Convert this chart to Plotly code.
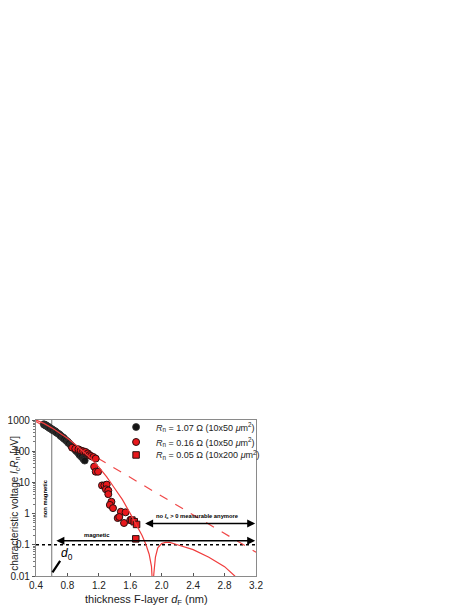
import numpy as np
import plotly.graph_objects as go

# R_n = 1.07 Ohm (10x50 um^2), black circles
black_x = [0.50, 0.51, 0.52, 0.53, 0.54, 0.55, 0.56, 0.57, 0.58, 0.60, 0.61, 0.62, 0.64, 0.65,
           0.66, 0.68, 0.70, 0.71, 0.72, 0.74, 0.75, 0.76, 0.78, 0.80, 0.81, 0.82, 0.84, 0.85,
           0.86, 0.88, 0.90, 0.91, 0.92, 0.94, 0.95, 0.96, 0.98, 1.00, 1.01, 1.02]
black_y = [730, 700, 690, 660, 640, 610, 600, 560, 540, 510, 480, 470, 440, 420,
           400, 370, 340, 320, 300, 280, 265, 250, 225, 205, 190, 180, 160, 150,
           140, 128, 112, 105, 98, 88, 80, 74, 66, 58, 55, 50]

# R_n = 0.16 Ohm (10x50 um^2), red circles
red_x = [0.86, 0.90, 0.94, 0.97, 1.00, 1.03, 1.06, 1.08, 1.10, 1.13, 1.16, 1.14, 1.16, 1.19,
         1.24, 1.27, 1.30, 1.29, 1.32, 1.32, 1.36, 1.34, 1.38, 1.48, 1.54, 1.44, 1.46, 1.52,
         1.60]
red_y = [130, 120, 115, 105, 100, 95, 85, 75, 70, 65, 58, 32, 22, 22,
         8.0, 8.0, 8.5, 6.0, 5.5, 4.2, 2.4, 1.9, 1.5, 1.15, 1.1, 0.72, 0.78, 0.5,
         0.62]

# R_n = 0.05 Ohm (10x200 um^2), red squares
sq_x = [1.62, 1.65, 1.68, 1.67]
sq_y = [0.62, 0.55, 0.45, 0.155]

# theory curve (solid)
fit_x = [0.40, 0.50, 0.60, 0.70, 0.80, 0.90, 1.00, 1.10, 1.20, 1.30, 1.40, 1.50, 1.60,
         1.68, 1.75, 1.80, 1.84, 1.87, 1.885, 1.90, 1.92, 1.95, 2.00, 2.05,
         2.10, 2.20, 2.40, 2.60, 2.80, 2.93, 3.00]
fit_y = [1000, 780, 560, 390, 260, 165, 100, 58, 31, 15, 6.5, 2.8, 1.0,
         0.42, 0.2, 0.1, 0.05, 0.02, 0.004, 0.012, 0.04, 0.08, 0.11, 0.12,
         0.12, 0.1, 0.07, 0.04, 0.02, 0.01, 0.007]

# exponential (dashed)
exp_x = [0.40, 3.20]
exp_y = [900, 0.058]

d0 = 0.6
level = 0.1

red = "#e8181c"
font_family = "Liberation Sans, Arial"
fig = go.Figure()

fig.add_trace(go.Scatter(x=[d0, d0], y=[0.01, 1000], mode="lines",
                         line=dict(color="#8a8a8a", width=1.2), showlegend=False))
fig.add_trace(go.Scatter(x=[0.4, 3.2], y=[level, level], mode="lines",
                         line=dict(color="black", width=1.6, dash="dot"), showlegend=False))
fig.add_trace(go.Scatter(x=exp_x, y=exp_y, mode="lines",
                         line=dict(color="#f04848", width=1.2, dash="dash"), showlegend=False))

fig.add_trace(go.Scatter(
    x=black_x, y=black_y, mode="markers", legend="legend",
    marker=dict(symbol="circle", size=7, color="#151515", line=dict(color="#333", width=0.8)),
    name="<i>R</i><sub>n</sub> = 1.07 Ω (10x50 <i>μ</i>m<sup>2</sup>)"))
fig.add_trace(go.Scatter(
    x=red_x, y=red_y, mode="markers", legend="legend2",
    marker=dict(symbol="circle", size=7, color=red, line=dict(color="#2a1010", width=1)),
    name="<i>R</i><sub>n</sub> = 0.16 Ω (10x50 <i>μ</i>m<sup>2</sup>)"))
fig.add_trace(go.Scatter(
    x=sq_x, y=sq_y, mode="markers", legend="legend3",
    marker=dict(symbol="square", size=6.5, color=red, line=dict(color="#2a1010", width=1)),
    name="<i>R</i><sub>n</sub> = 0.05 Ω (10x200 <i>μ</i>m<sup>2</sup>)"))

fig.add_trace(go.Scatter(x=fit_x, y=fit_y, mode="lines",
                         line=dict(color="#f03c3c", width=1.2), showlegend=False))


def double_arrow(x0, x1, y):
    fig.add_annotation(x=x1, y=np.log10(y), ax=x0, ay=np.log10(y),
                       xref="x", yref="y", axref="x", ayref="y", text="",
                       showarrow=True, arrowhead=2, arrowside="end+start",
                       arrowsize=1, arrowwidth=1.6, arrowcolor="black")


double_arrow(0.64, 3.19, 0.135)
double_arrow(1.77, 3.19, 0.48)

small = dict(family=font_family, size=5.8, color="black")
fig.add_annotation(x=1.17, y=np.log10(0.2), text="<b>magnetic</b>", showarrow=False, font=small)
fig.add_annotation(x=2.45, y=np.log10(0.8),
                   text="<b>no <i>I</i><sub>c</sub> > 0 measurable anymore</b>",
                   showarrow=False, font=small)
fig.add_annotation(x=0.515, y=np.log10(3.0), text="<b>non magnetic</b>", textangle=-90,
                   showarrow=False, font=small)
fig.add_annotation(x=0.61, y=np.log10(0.013), ax=0.72, ay=np.log10(0.034),
                   xref="x", yref="y", axref="x", ayref="y", text="",
                   showarrow=True, arrowhead=0, arrowwidth=2.2, arrowcolor="black")
fig.add_annotation(x=0.79, y=np.log10(0.05), text="<i>d</i><sub>0</sub>", showarrow=False,
                   font=dict(family=font_family, size=12, color="black"))

# axis titles (left edge of the figure for the vertical one)
fig.add_annotation(xref="paper", yref="paper", x=-0.1273, y=0.47, xanchor="left",
                   yanchor="middle", textangle=-90, borderpad=0,
                   text="characteristic voltage <i>I</i><sub>c</sub><i>R</i><sub>n</sub> [<i>μ</i>V]",
                   showarrow=False, font=dict(family=font_family, size=10, color="#222"))
fig.add_annotation(xref="paper", yref="paper", x=0.5, y=-0.154, xanchor="center",
                   yanchor="middle", text="thickness F-layer <i>d</i><sub>F</sub> (nm)",
                   showarrow=False, font=dict(family=font_family, size=11, color="#222"))

axis_common = dict(showline=True, mirror=True, linecolor="#8a8a8a", linewidth=1.3,
                   showgrid=False, zeroline=False, ticklen=3,
                   tickcolor="#555", automargin=False,
                   tickfont=dict(family=font_family, size=10, color="#222"))

fig.update_xaxes(range=[0.4, 3.2], dtick=0.4, tick0=0.4, tickformat=".1f", ticks="inside",
                 **axis_common)
fig.update_yaxes(type="log", range=[-2, 3], ticks="outside",
                 tickvals=[0.01, 0.1, 1, 10, 100, 1000],
                 ticktext=["0.01", "0.1", "1", "10", "100", "1000"],
                 minor=dict(ticks="outside", ticklen=2, tickcolor="#777", dtick="D1",
                            showgrid=False),
                 **axis_common)

legend_common = dict(xanchor="left", yanchor="middle", bgcolor="rgba(0,0,0,0)",
                     font=dict(family=font_family, size=9, color="#222"), itemwidth=30)
# page body adds an 8px margin, so the figure is 8px smaller than the window
fig.update_layout(
    width=461, height=599,
    margin=dict(l=28, r=213, t=412, b=31),
    paper_bgcolor="white", plot_bgcolor="white",
    font=dict(family=font_family, color="#222"),
    legend=dict(x=0.364, y=0.955, **legend_common),
    legend2=dict(x=0.364, y=0.859, **legend_common),
    legend3=dict(x=0.364, y=0.776, **legend_common),
)

fig.write_html("out.html")
